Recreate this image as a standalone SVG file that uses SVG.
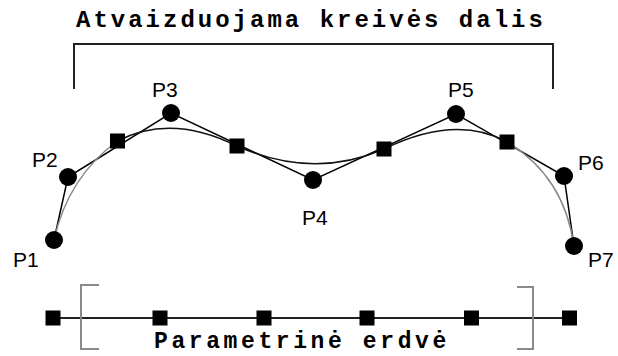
<svg xmlns="http://www.w3.org/2000/svg" width="618" height="356" viewBox="0 0 618 356">
<style>
.title{font-family:"Liberation Mono","Courier New",monospace;font-weight:bold;font-size:24px;letter-spacing:3px;fill:#000}
.ptitle{font-family:"Liberation Mono","Courier New",monospace;font-weight:bold;font-size:23px;letter-spacing:3.6px;fill:#000}
.lbl{font-family:"Liberation Sans",Arial,sans-serif;font-size:21px;fill:#000}
.poly{fill:none;stroke:#000;stroke-width:1.5}
.curve{fill:none;stroke:#111;stroke-width:1.5}
.curveg{fill:none;stroke:#888;stroke-width:1.5}
.brk{fill:none;stroke:#222;stroke-width:2}
.gbrk{fill:none;stroke:#8a8a8a;stroke-width:2}
.pt{fill:#000}
.sq{fill:#000}
</style>
<defs>
<rect id="sq" x="-7.5" y="-7.5" width="15" height="15" class="sq"/>
<circle id="cp" r="9" class="pt"/>
</defs>
<text class="title" x="76" y="27">Atvaizduojama kreivės dalis</text>
<g id="topBracket">
<path class="brk" d="M74,89 V44 H553 V89"/>
</g>
<g id="connectors">
<polyline id="polygon" class="poly" points="54,240 68,177 171,113 313,180 456,114 564,176 574,246"/>
<path class="curveg" d="M54,240 Q68,177 117.5,141"/>
<path class="curve" d="M117.5,141 Q171,113 237,146 Q313,180 384,149 Q456,114 507,142"/>
<path class="curveg" d="M507,142 Q564,176 574,246"/>
<line class="brk" x1="53" y1="318" x2="570" y2="318"/>
</g>
<g id="P1"><use href="#cp" x="54" y="240"/><text class="lbl" x="13" y="267">P1</text></g>
<g id="P2"><use href="#cp" x="68" y="177"/><text class="lbl" x="32" y="167">P2</text></g>
<g id="P3"><use href="#cp" x="171" y="113"/><text class="lbl" x="152" y="97">P3</text></g>
<g id="P4"><use href="#cp" x="313" y="180"/><text class="lbl" x="302" y="225">P4</text></g>
<g id="P5"><use href="#cp" x="456" y="114"/><text class="lbl" x="448" y="97">P5</text></g>
<g id="P6"><use href="#cp" x="564" y="176"/><text class="lbl" x="578" y="170">P6</text></g>
<g id="P7"><use href="#cp" x="574" y="246"/><text class="lbl" x="588" y="267">P7</text></g>
<g id="K1"><use href="#sq" x="117.5" y="141"/></g>
<g id="K2"><use href="#sq" x="237" y="146"/></g>
<g id="K3"><use href="#sq" x="384" y="149"/></g>
<g id="K4"><use href="#sq" x="507" y="142"/></g>
<g id="paramSpace">
<path class="gbrk" d="M99,285 H81 V349 H99"/>
<path class="gbrk" d="M517,287 H533 V349 H517"/>
<use href="#sq" x="53" y="318"/>
<use href="#sq" x="160" y="318"/>
<use href="#sq" x="264" y="318"/>
<use href="#sq" x="367" y="318"/>
<use href="#sq" x="471.5" y="318"/>
<use href="#sq" x="569.5" y="318"/>
<text class="ptitle" x="154" y="348">Parametrinė erdvė</text>
</g>
</svg>
